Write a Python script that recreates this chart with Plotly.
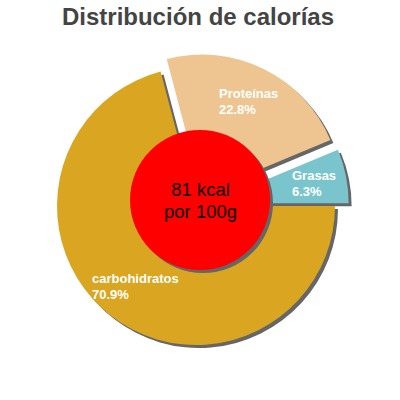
import math
import plotly.graph_objects as go

# valores de la tarta
labels = ["Grasas", "Proteínas", "carbohidratos"]
values = [6.3, 22.8, 70.9]
colors = ["#7AC5CD", "#EEC591", "#DAA520"]
pulls = [0.1, 0.1, 0.0]

center_lines = ["81 kcal", "por 100g"]
title_text = "Distribución de calorías"

W, H = 400, 400

# pie geometry in pixels (centre + radius), converted to paper domain
cx, cy, r = 196, 206, 139
half = r * (1 + max(pulls))
shadow_dx = 3
total = sum(values)
# plotly puts the first slice's end at 'rotation' when going counterclockwise
rotation = 90 - values[0] / total * 360

def domain(dx=0):
    x0 = (cx + dx - half) / W
    x1 = (cx + dx + half) / W
    y0 = (H - cy - dx - half) / H
    y1 = (H - cy - dx + half) / H
    return dict(x=[x0, x1], y=[y0, y1])

def tight(lines, size):
    # glyph size set on the spans, the annotation font only drives line spacing
    return "<br>".join(f"<span style='font-size:{size}px'>{t}</span>" for t in lines)

fig = go.Figure()

# shadow
fig.add_trace(go.Pie(
    labels=labels, values=values, sort=False,
    direction="counterclockwise", rotation=rotation,
    pull=pulls, domain=domain(shadow_dx),
    marker=dict(colors=["#666666"] * len(values), line=dict(width=0)),
    textinfo="none", hoverinfo="skip", showlegend=False,
))

fig.add_trace(go.Pie(
    labels=labels, values=values, sort=False,
    direction="counterclockwise", rotation=rotation,
    pull=pulls, domain=domain(),
    marker=dict(colors=colors, line=dict(width=0)),
    textinfo="none", showlegend=False,
))

# slice labels, left aligned, at the middle angle of each slice
fs = 13
start = 0.0
for lab, v, p in zip(labels, values, pulls):
    mid = math.radians((start + v / 2) / total * 360)
    start += v
    rr = r * (0.735 + p)
    tx = cx + rr * math.cos(mid)
    ty = cy - rr * math.sin(mid)
    left = tx - len(lab) * fs * 0.26
    fig.add_annotation(
        x=left / W, y=1 - ty / H,
        xref="paper", yref="paper", showarrow=False,
        xanchor="left", yanchor="middle", align="left",
        text=tight([lab, f"{v / total * 100:.1f}%"], fs),
        font=dict(family="Liberation Sans", size=fs * 1.2 / 1.3,
                  color="white", weight="bold"),
    )

# red circle in the middle, with its shadow
rc_x, rc_y, rc_r = 200, 200, 70
for off, col in [(3, "#666666"), (0, "#FF0000")]:
    fig.add_shape(
        type="circle", xref="paper", yref="paper",
        x0=(rc_x - rc_r + off) / W, x1=(rc_x + rc_r + off) / W,
        y0=(H - rc_y - rc_r - off) / H, y1=(H - rc_y + rc_r - off) / H,
        fillcolor=col, line=dict(width=0), layer="above",
    )

fig.add_annotation(
    x=rc_x / W, y=1 - rc_y / H, xref="paper", yref="paper",
    text=tight(center_lines, 18.5), showarrow=False,
    font=dict(family="Liberation Sans", size=18.5 * 1.2 / 1.3, color="black"),
)

fig.update_layout(
    width=W, height=H,
    margin=dict(l=0, r=0, t=0, b=0),
    paper_bgcolor="white", plot_bgcolor="white",
    title=dict(text="<b>" + title_text + "</b>", x=0.495, xanchor="center",
               y=1 - 17 / H, yanchor="middle", yref="container",
               font=dict(family="Liberation Sans", size=24, color="#444444")),
)

# drop the browser's default body margin so the figure sits at 0,0
fig.write_html("out.html", config={"displayModeBar": False},
               post_script="document.body.style.margin='0';")
